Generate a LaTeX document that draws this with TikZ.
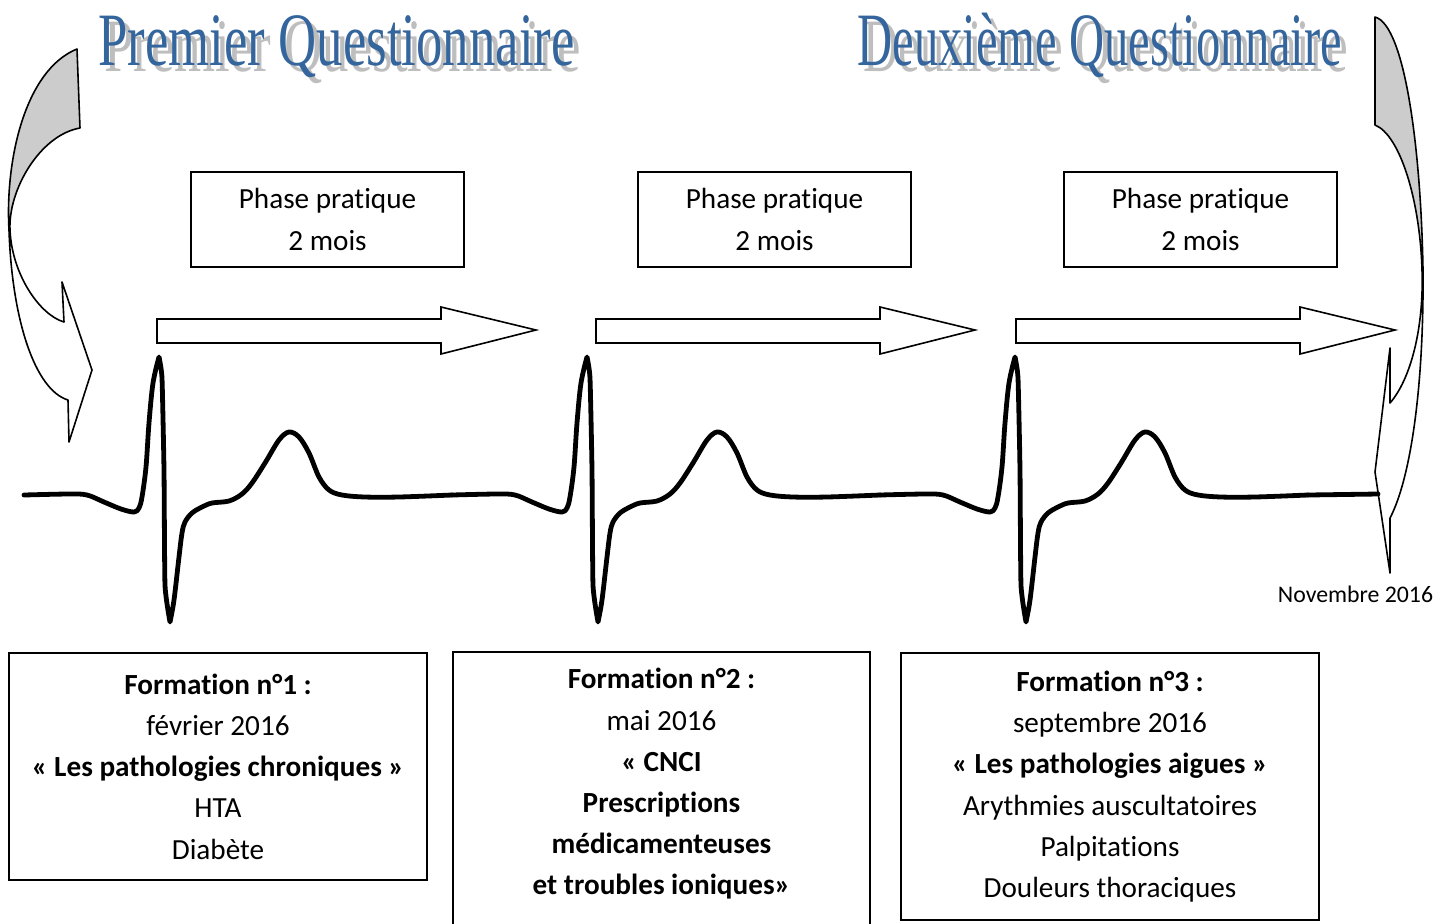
\documentclass[tikz,border=0pt]{standalone}
\usepackage{fontspec}
\setmainfont{Carlito}[Ligatures=NoCommon]
\newfontfamily\titlefont{Liberation Serif}
\definecolor{titleblue}{RGB}{52,101,156}
\definecolor{shadowgray}{RGB}{190,190,190}
\newcommand{\shadowtitle}[2]{\makebox[0pt][l]{\hspace{3pt}\raisebox{-3pt}{\color{shadowgray}\scalebox{#1}[1]{#2}}}{\color{titleblue}\scalebox{#1}[1]{#2}}}
\begin{document}
\begin{tikzpicture}[x=0.5pt,y=-0.5pt,
    phasebox/.style={draw,line width=1pt,minimum width=136.5pt,minimum height=47.5pt,align=center,font=\fontsize{14.6}{21}\selectfont},
    formtext/.style={align=center,font=\fontsize{14.6}{20.6}\selectfont},
    formbox/.style={formtext,draw,line width=1pt,minimum width=209pt},
    flatarrow/.style={draw,line width=0.8pt,line join=miter},
    curvedarrow/.style={draw,line width=0.8pt,line join=round},
    ecg/.style={line width=2.4pt,line join=round,line cap=round},
    title/.style={font=\titlefont\fontsize{37.7}{40}\selectfont,anchor=base west,inner sep=0pt}]
        \clip (0,0) rectangle (1451,923);
        % titles with their shadow
        \node[title] (q1) at (98,65) {\shadowtitle{0.70}{Premier Questionnaire}};
        \node[title] (q2) at (857,65) {\shadowtitle{0.645}{Deuxième Questionnaire}};
        % phases
        \draw (327.5,219.5) node[phasebox](p1){Phase pratique\\2 mois};
        \draw (774.5,219.5) node[phasebox](p2){Phase pratique\\2 mois};
        \draw (1200.5,219.5) node[phasebox](p3){Phase pratique\\2 mois};
        \foreach \x in {157,596,1016}
          \draw[flatarrow] (\x,319) -- ++(284,0) -- ++(0,-12) -- ++(95,23) -- ++(-95,24) -- ++(0,-11) -- ++(-284,0) -- cycle;
        % ecg trace
        \foreach \r in {159,587,1015}
          \draw[ecg,shift={(\r,0)}]
            plot[smooth,tension=0.55] coordinates {(-135,495) (-90,494) (-72,495) (-55,502) (-38,509) (-25,512) (-20,508) (-17,497) (-13,467) (-10,423) (-6,383) (0,357)}
            -- plot[smooth,tension=0.3] coordinates {(0,357) (3,378) (5,470) (6,585) (11,622)}
            -- plot[smooth,tension=0.55] coordinates {(11,622) (15,600) (20,557) (23,533) (26,522) (33,513) (43,507) (53,503) (70,501) (83,494) (93,483) (106,463) (120,440) (130,432) (140,437) (150,453) (160,477) (170,490) (183,495) (206,497) (240,497) (293,495)};
        \draw[ecg] (1308,495) -- (1378,494);
        % curved arrows
        \fill[black!20] (77,49) .. controls (25,70) and (5,160) .. (9,230) .. controls (8,190) and (40,135) .. (80,128) -- cycle;
        \draw[curvedarrow] (77,49) .. controls (25,70) and (5,160) .. (9,230) .. controls (12,320) and (35,390) .. (68,400)
          -- (69,442) -- (92,370) -- (62,282) -- (64,322)
          .. controls (40,315) and (12,275) .. (10,230) .. controls (8,190) and (40,135) .. (80,128) -- cycle;
        \fill[black!20] (1375,17) .. controls (1405,25) and (1421,150) .. (1423,270) .. controls (1420,200) and (1400,135) .. (1375,125) -- cycle;
        \draw[curvedarrow] (1375,17) .. controls (1405,25) and (1421,150) .. (1423,270) .. controls (1424,390) and (1410,480) .. (1390,518)
          -- (1390,573) -- (1375,472) -- (1390,348) -- (1390,403)
          .. controls (1410,380) and (1424,330) .. (1422,270) .. controls (1420,200) and (1400,135) .. (1375,125) -- cycle;
        \node (nov) at (1355.5,594) {\fontsize{11.9}{14}\selectfont Novembre 2016};
        % formations
        \node[formbox,minimum height=113.5pt] (f1) at (218,766.5)
          {\textbf{Formation n°1 :}\\février 2016\\\textbf{« Les pathologies chroniques »}\\HTA\\Diabète};
        \node[formbox,minimum width=208.5pt,minimum height=140pt,anchor=north] (f2) at (661.5,651) {};
        \node[formtext] (t2) at (661.5,784)
          {\textbf{Formation n°2 :}\\mai 2016\\\textbf{« CNCI}\\\textbf{Prescriptions}\\\textbf{médicamenteuses}\\\textbf{et troubles ioniques»}};
        \node[formbox,minimum height=133.5pt] (f3) at (1110,786.5)
          {\textbf{Formation n°3 :}\\septembre 2016\\\textbf{« Les pathologies aigues »}\\Arythmies auscultatoires\\Palpitations\\Douleurs thoraciques};
\end{tikzpicture}
\end{document}
